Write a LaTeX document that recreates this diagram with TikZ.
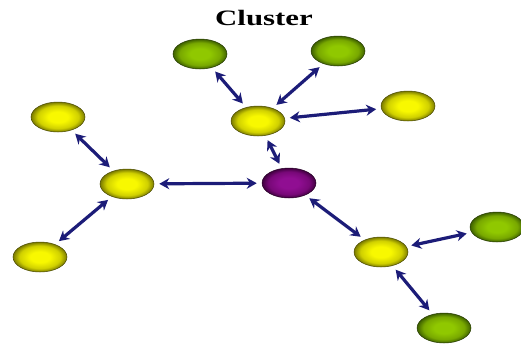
\documentclass[tikz,border=0pt]{standalone}
\usepackage{fontspec}
\setmainfont{Liberation Serif}
\usetikzlibrary{shapes.geometric,arrows.meta}
\definecolor{navy}{HTML}{1C1C78}
\definecolor{ylin}{HTML}{F8F800}
\definecolor{ylmid}{HTML}{D0D000}
\definecolor{ylout}{HTML}{7A7A00}
\definecolor{grin}{HTML}{90C800}
\definecolor{grmid}{HTML}{78A800}
\definecolor{grout}{HTML}{3E6000}
\definecolor{puin}{HTML}{900E92}
\definecolor{pumid}{HTML}{780878}
\definecolor{puout}{HTML}{40003F}
\pgfdeclareradialshading{yshade}{\pgfpoint{0bp}{0bp}}{color(0bp)=(ylin); color(9bp)=(ylin); color(19bp)=(ylmid); color(25bp)=(ylout); color(50bp)=(ylout)}
\pgfdeclareradialshading{gshade}{\pgfpoint{0bp}{0bp}}{color(0bp)=(grin); color(9bp)=(grin); color(19bp)=(grmid); color(25bp)=(grout); color(50bp)=(grout)}
\pgfdeclareradialshading{pshade}{\pgfpoint{0bp}{0bp}}{color(0bp)=(puin); color(9bp)=(puin); color(19bp)=(pumid); color(25bp)=(puout); color(50bp)=(puout)}
\tikzset{
  ball/.style={ellipse, minimum width=54pt, minimum height=30pt, inner sep=0pt, line width=0.5pt},
  yball/.style={ball, shading=yshade, draw=ylout!60!black},
  gball/.style={ball, shading=gshade, draw=grout!60!black},
  pball/.style={ball, shading=pshade, draw=puout!60!black},
  link/.style={navy, line width=3.2pt, {Stealth[length=10pt,width=11pt]}-{Stealth[length=10pt,width=11pt]}, shorten >=5pt, shorten <=5pt}
}
\begin{document}
\begin{tikzpicture}[x=1pt,y=-1pt]
\useasboundingbox (0,0) rectangle (521,343);
\node (title) at (264,18) {\fontsize{22}{26}\selectfont\bfseries\scalebox{1.4}[1]{Cluster}};
\node[gball] (gtl) at (200,54) {};
\node[gball] (gtr) at (338,51) {};
\node[yball] (yc) at (258,121) {};
\node[yball] (yr) at (408,106) {};
\node[yball] (ytl) at (58,117) {};
\node[yball] (yml) at (127,184) {};
\node[pball] (pu) at (289,183) {};
\node[yball] (ybl) at (40,257) {};
\node[yball] (ybr) at (381,252) {};
\node[gball] (gr) at (497,227) {};
\node[gball] (gb) at (444,328) {};
\draw[link] (gtl) -- (yc);
\draw[link] (gtr) -- (yc);
\draw[link] (yc) -- (yr);
\draw[link] (yc) -- (pu);
\draw[link] (ytl) -- (yml);
\draw[link] (yml) -- (pu);
\draw[link] (yml) -- (ybl);
\draw[link] (pu) -- (ybr);
\draw[link] (ybr) -- (gr);
\draw[link] (ybr) -- (gb);
\end{tikzpicture}
\end{document}
